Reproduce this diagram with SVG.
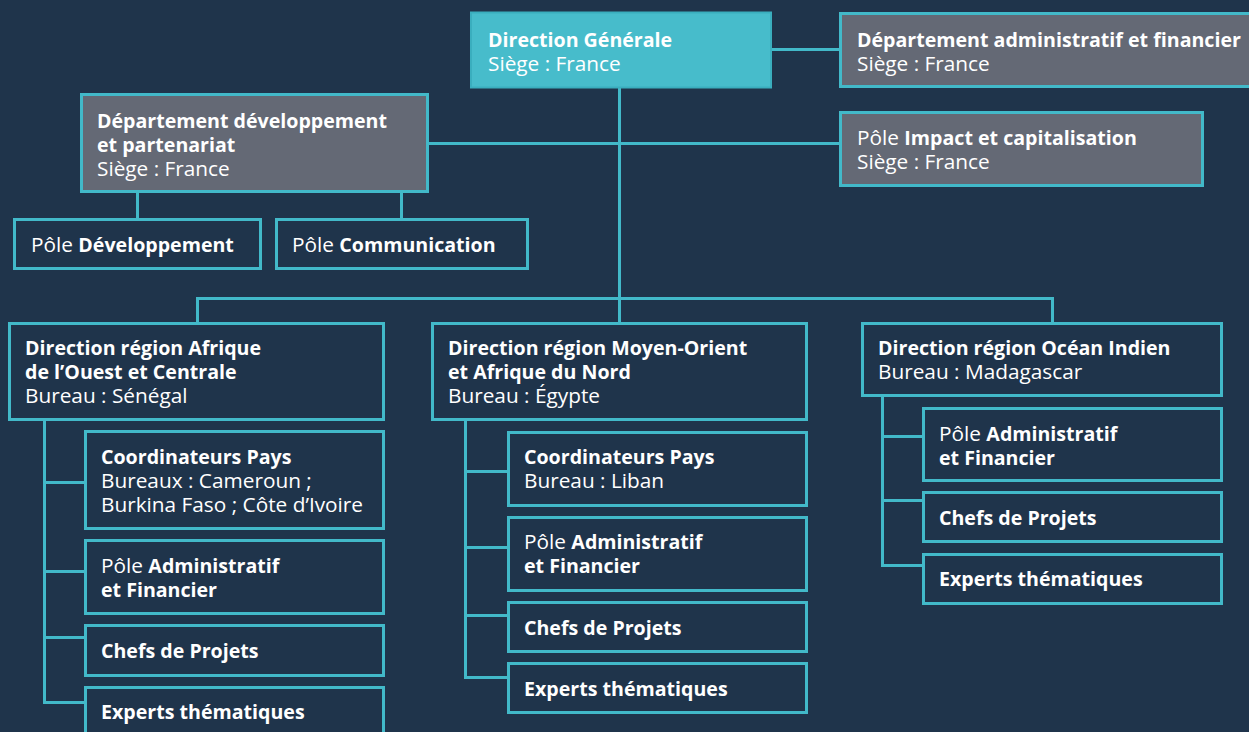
<svg xmlns="http://www.w3.org/2000/svg" width="1249" height="732" viewBox="0 0 1249 732">
<style>
.bg{fill:#1f344b}
.box{fill:#1f344b;stroke:#42b9c9;stroke-width:3}
.gray{fill:#646975;stroke:#42b9c9;stroke-width:3}
.dg{fill:#47bccb;stroke:#3aaebe;stroke-width:2}
.con{fill:none;stroke:#42b9c9;stroke-width:3}
text{font-family:"Open Sans","DejaVu Sans",sans-serif;font-size:19.6px;fill:#ffffff}
.b{font-weight:700;font-size:19.6px}
.r{font-weight:400;font-size:20.8px}
</style>
<rect class="bg" x="0" y="0" width="1249" height="732"/>
<g id="connectors">
<path class="con" d="M771 49.5H839"/>
<path class="con" d="M619.5 88V299"/>
<path class="con" d="M429 143.5H839"/>
<path class="con" d="M137.5 192V218M401.5 192V218"/>
<path class="con" d="M197.5 322V298.5H1052.5V322M619.5 299V322"/>
<path class="con" d="M44.5 420V702.5H84M44.5 482.5H84M44.5 571.5H84M44.5 637.5H84"/>
<path class="con" d="M465.5 420V677.5H507M465.5 471.5H507M465.5 547.5H507M465.5 615.5H507"/>
<path class="con" d="M882.5 396V565.5H922M882.5 436.5H922M882.5 500.5H922"/>
</g>
<g id="dg"><rect class="dg" x="471" y="12.5" width="300" height="75"/>
<text x="488" y="47" class="b">Direction Générale</text><text x="488" y="71" class="r">Siège : France</text></g>
<g id="daf"><rect class="gray" x="840.5" y="13.5" width="414" height="73"/>
<text x="857" y="47" class="b">Département administratif et financier</text><text x="857" y="71" class="r">Siège : France</text></g>
<g id="impact"><rect class="gray" x="840.5" y="112.5" width="362" height="73"/>
<text x="857" y="145"><tspan class="r">Pôle </tspan><tspan class="b">Impact et capitalisation</tspan></text><text x="857" y="169" class="r">Siège : France</text></g>
<g id="ddp"><rect class="gray" x="81.5" y="94.5" width="346" height="97"/>
<text x="97" y="128" class="b">Département développement</text><text x="97" y="152" class="b">et partenariat</text><text x="97" y="176" class="r">Siège : France</text></g>
<g id="pdev"><rect class="box" x="14.5" y="219.5" width="246" height="49"/>
<text x="31" y="252"><tspan class="r">Pôle </tspan><tspan class="b">Développement</tspan></text></g>
<g id="pcom"><rect class="box" x="276.5" y="219.5" width="251" height="49"/>
<text x="292" y="252"><tspan class="r">Pôle </tspan><tspan class="b">Communication</tspan></text></g>
<g id="aoc"><rect class="box" x="9.5" y="323.5" width="374" height="96"/>
<text x="25" y="355" class="b">Direction région Afrique</text><text x="25" y="379" class="b">de l’Ouest et Centrale</text><text x="25" y="403" class="r">Bureau : Sénégal</text></g>
<g id="aoc-coord"><rect class="box" x="85.5" y="431.5" width="298" height="97"/>
<text x="101" y="464" class="b">Coordinateurs Pays</text><text x="101" y="488" class="r">Bureaux : Cameroun ;</text><text x="101" y="512" class="r">Burkina Faso ; Côte d’Ivoire</text></g>
<g id="aoc-paf"><rect class="box" x="85.5" y="540.5" width="298" height="73"/>
<text x="101" y="573"><tspan class="r">Pôle </tspan><tspan class="b">Administratif</tspan></text><text x="101" y="597" class="b">et Financier</text></g>
<g id="aoc-chefs"><rect class="box" x="85.5" y="625.5" width="298" height="50"/>
<text x="101" y="658" class="b">Chefs de Projets</text></g>
<g id="aoc-experts"><rect class="box" x="85.5" y="687.5" width="298" height="60"/>
<text x="101" y="719" class="b">Experts thématiques</text></g>
<g id="mena"><rect class="box" x="432.5" y="323.5" width="374" height="96"/>
<text x="448" y="355" class="b">Direction région Moyen-Orient</text><text x="448" y="379" class="b">et Afrique du Nord</text><text x="448" y="403" class="r">Bureau : Égypte</text></g>
<g id="mena-coord"><rect class="box" x="508.5" y="432.5" width="298" height="73"/>
<text x="524" y="464" class="b">Coordinateurs Pays</text><text x="524" y="488" class="r">Bureau : Liban</text></g>
<g id="mena-paf"><rect class="box" x="508.5" y="517.5" width="298" height="73"/>
<text x="524" y="549"><tspan class="r">Pôle </tspan><tspan class="b">Administratif</tspan></text><text x="524" y="573" class="b">et Financier</text></g>
<g id="mena-chefs"><rect class="box" x="508.5" y="602.5" width="298" height="49"/>
<text x="524" y="635" class="b">Chefs de Projets</text></g>
<g id="mena-experts"><rect class="box" x="508.5" y="663.5" width="298" height="49"/>
<text x="524" y="696" class="b">Experts thématiques</text></g>
<g id="oi"><rect class="box" x="862.5" y="323.5" width="359" height="72"/>
<text x="878" y="355" class="b">Direction région Océan Indien</text><text x="878" y="379" class="r">Bureau : Madagascar</text></g>
<g id="oi-paf"><rect class="box" x="923.5" y="408.5" width="298" height="72"/>
<text x="939" y="441"><tspan class="r">Pôle </tspan><tspan class="b">Administratif</tspan></text><text x="939" y="465" class="b">et Financier</text></g>
<g id="oi-chefs"><rect class="box" x="923.5" y="492.5" width="298" height="49"/>
<text x="939" y="525" class="b">Chefs de Projets</text></g>
<g id="oi-experts"><rect class="box" x="923.5" y="554.5" width="298" height="49"/>
<text x="939" y="586" class="b">Experts thématiques</text></g>
</svg>
